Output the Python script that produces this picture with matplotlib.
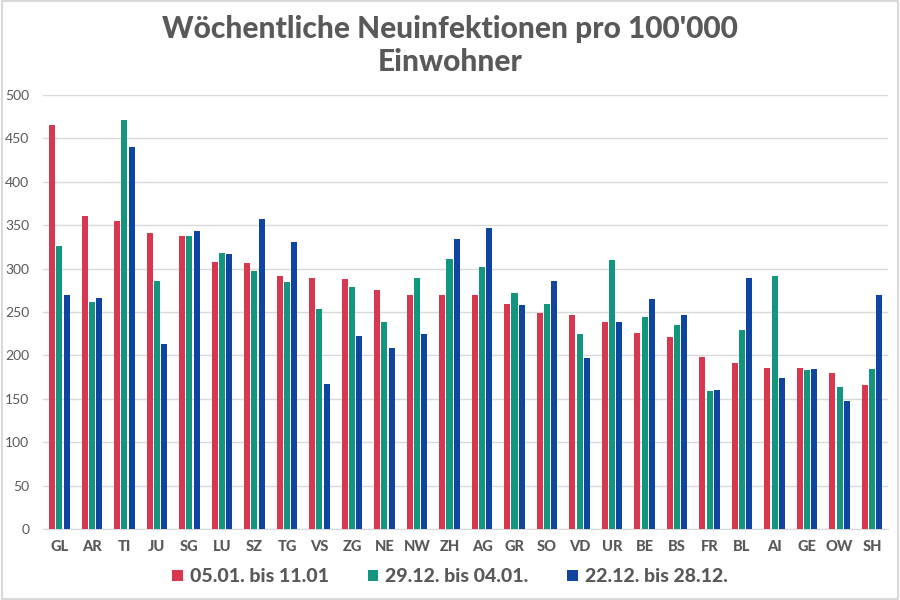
import numpy as np
from matplotlib import pyplot as plt
from matplotlib.patches import Rectangle
from matplotlib import font_manager

plt.rcParams['font.family'] = ['Lato', 'DejaVu Sans']

# Kantone
kantone = ['GL', 'AR', 'TI', 'JU', 'SG', 'LU', 'SZ', 'TG', 'VS', 'ZG', 'NE', 'NW', 'ZH',
           'AG', 'GR', 'SO', 'VD', 'UR', 'BE', 'BS', 'FR', 'BL', 'AI', 'GE', 'OW', 'SH']

woche_0501 = [465, 360, 355, 341, 338, 307, 306, 291, 289, 288, 275, 270, 270,
              269, 259, 249, 246, 238, 226, 221, 198, 191, 186, 186, 180, 166]
woche_2912 = [326, 262, 471, 286, 337, 318, 297, 284, 254, 279, 238, 289, 311,
              302, 272, 259, 225, 310, 244, 235, 159, 229, 291, 183, 164, 184]
woche_2212 = [269, 266, 440, 213, 343, 317, 357, 331, 167, 222, 209, 225, 334,
              347, 258, 286, 197, 238, 265, 246, 160, 289, 174, 184, 147, 270]

serien = ['05.01. bis 11.01', '29.12. bis 04.01.', '22.12. bis 28.12.']
farben = ['#D7374F', '#12967F', '#0F44A0']

# welche Lato-Schnitte gibt es?
print(sorted(set((f.name, f.weight) for f in font_manager.fontManager.ttflist if 'Lato' in f.name)))

fig = plt.figure(figsize=(9, 6), dpi=100)
ax = fig.add_axes([0.048, 0.118, 0.939, 0.724])

x = np.arange(len(kantone))
step = 0.225
breite = 0.185
for i, (werte, name, farbe) in enumerate(zip([woche_0501, woche_2912, woche_2212], serien, farben)):
    ax.bar(x + (i - 1) * step, werte, breite, color=farbe, label=name, zorder=3)

ax.set_xlim(-0.5, len(kantone) - 0.5)
ax.set_ylim(0, 500)
ax.set_yticks(np.arange(0, 501, 50))
ax.set_xticks(x)
ax.set_xticklabels(kantone, fontweight='black', fontsize=10.5, color='#595959')
ax.tick_params(axis='y', labelsize=10, colors='#595959', length=0, pad=10)
ax.tick_params(axis='x', length=0, pad=8)
ax.grid(axis='y', color='#D9D9D9', linewidth=1, zorder=0)
for s in ['top', 'right', 'left']:
    ax.spines[s].set_visible(False)
ax.spines['bottom'].set_color('#D9D9D9')

fig.suptitle("Wöchentliche Neuinfektionen pro 100'000\nEinwohner", fontsize=21.5,
             fontweight='black', color='#595959', y=0.975, linespacing=1.2)

leg = fig.legend(loc='lower center', bbox_to_anchor=(0.5, -0.005), ncol=3, frameon=False,
                 prop={'weight': 'black', 'size': 14}, handlelength=0.55, handleheight=0.55,
                 handletextpad=0.35, columnspacing=2.0)
for t in leg.get_texts():
    t.set_color('#595959')

fig.patches.append(Rectangle((0.002, 0.002), 0.996, 0.996, transform=fig.transFigure,
                             fill=False, edgecolor='#D9D9D9', linewidth=1.5))

fig.savefig('out.png', dpi=100)
